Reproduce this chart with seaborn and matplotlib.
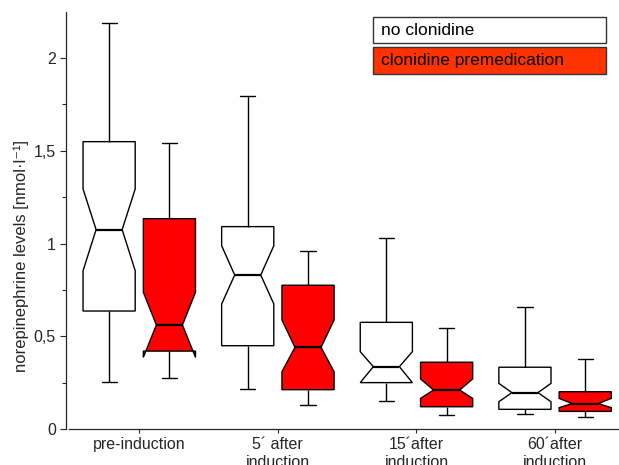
import numpy as np
import pandas as pd
import matplotlib
matplotlib.use("Agg")
import matplotlib.pyplot as plt
from matplotlib.patches import Rectangle
from matplotlib.ticker import MultipleLocator, FuncFormatter
import seaborn as sns

categories = ["pre-induction", "5´ after\ninduction", "15´after\ninduction", "60´after\ninduction"]
groups = ["no clonidine", "clonidine premedication"]

# values (nmol/l)
no_clon_min = [0.253, 0.217, 0.153, 0.079]
no_clon_q1 = [0.636, 0.449, 0.250, 0.106]
no_clon_med = [1.075, 0.830, 0.336, 0.196]
no_clon_q3 = [1.549, 1.091, 0.575, 0.333]
no_clon_max = [2.190, 1.797, 1.028, 0.656]
no_clon_notch_lo = [0.853, 0.674, 0.250, 0.147]
no_clon_notch_hi = [1.294, 0.988, 0.417, 0.246]

clon_min = [0.277, 0.129, 0.075, 0.063]
clon_q1 = [0.420, 0.212, 0.120, 0.095]
clon_med = [0.561, 0.440, 0.210, 0.137]
clon_q3 = [1.134, 0.775, 0.360, 0.201]
clon_max = [1.543, 0.961, 0.543, 0.376]
clon_notch_lo = [0.386, 0.309, 0.165, 0.115]
clon_notch_hi = [0.737, 0.588, 0.270, 0.165]

summaries = {
    groups[0]: (no_clon_min, no_clon_q1, no_clon_med, no_clon_q3, no_clon_max,
                no_clon_notch_lo, no_clon_notch_hi),
    groups[1]: (clon_min, clon_q1, clon_med, clon_q3, clon_max,
                clon_notch_lo, clon_notch_hi),
}

rows = []
for g, (mn, q1, md, q3, mx, lo, hi) in summaries.items():
    for i, c in enumerate(categories):
        for v in (mn[i], q1[i], md[i], q3[i], mx[i]):
            rows.append({"category": c, "group": g, "value": v})
df = pd.DataFrame(rows)

def make_stats(g):
    mn, q1, md, q3, mx, lo, hi = summaries[g]
    return [dict(med=md[i], q1=q1[i], q3=q3[i], whislo=mn[i], whishi=mx[i],
                 cilo=lo[i], cihi=hi[i], fliers=[], mean=md[i])
            for i in range(len(categories))]

sns.set_style("ticks")
plt.rcParams["font.family"] = ["Liberation Sans", "DejaVu Sans"]

W, H = 619, 465
fig = plt.figure(figsize=(W / 100, H / 100), dpi=100)
ax = fig.add_axes([69 / W, (H - 429) / H, (618 - 69) / W, (429 - 12) / H])

palette = {groups[0]: "white", groups[1]: "#ff0000"}
for g in groups:
    sns.boxplot(data=df[df["group"] == g], x="category", y="value", hue="group",
                order=categories, hue_order=groups, palette=palette,
                dodge=True, saturation=1,
                width=0.87, gap=0.135, notch=True, whis=(0, 100),
                linecolor="black", linewidth=1.0, legend=False, ax=ax,
                bxpstats=make_stats(g), capwidths=0.11,
                medianprops=dict(linewidth=1.6))

ax.set_xlim(-0.507, 3.454)
ax.set_ylim(0, 2.248)
ax.yaxis.set_major_locator(MultipleLocator(0.5))
ax.yaxis.set_minor_locator(MultipleLocator(0.25))
ax.yaxis.set_major_formatter(FuncFormatter(lambda v, p: f"{v:g}".replace(".", ",")))
ax.tick_params(axis="y", which="major", length=4, width=0.8, labelsize=11.5, pad=3)
ax.tick_params(axis="y", which="minor", length=3, width=0.8)
ax.tick_params(axis="x", length=3, width=0.8, labelsize=11.5, pad=3)
for s in ("top", "right"):
    ax.spines[s].set_visible(False)
ax.spines["left"].set_position(("outward", 2.5))
ax.spines["left"].set_linewidth(0.9)
ax.spines["bottom"].set_linewidth(0.9)
ax.set_xlabel("")
ax.set_ylabel("norepinephrine levels [nmol·l⁻¹]", fontsize=12)
ax.yaxis.set_label_coords((29 - 69) / 549, (429 - 256) / 417)

# legend boxes
leg = [(groups[0], "white", 17, 43), (groups[1], "#ff3300", 47, 74)]
for label, fc, y0, y1 in leg:
    fig.patches.append(Rectangle((373 / W, (H - y1) / H), 233 / W, (y1 - y0) / H,
                                 transform=fig.transFigure, facecolor=fc,
                                 edgecolor="#333333", linewidth=1.0))
    fig.text(381 / W, (H - (y0 + y1) / 2) / H, label, ha="left", va="center",
             fontsize=12.5, color="black")

fig.savefig("out.png", dpi=100)
